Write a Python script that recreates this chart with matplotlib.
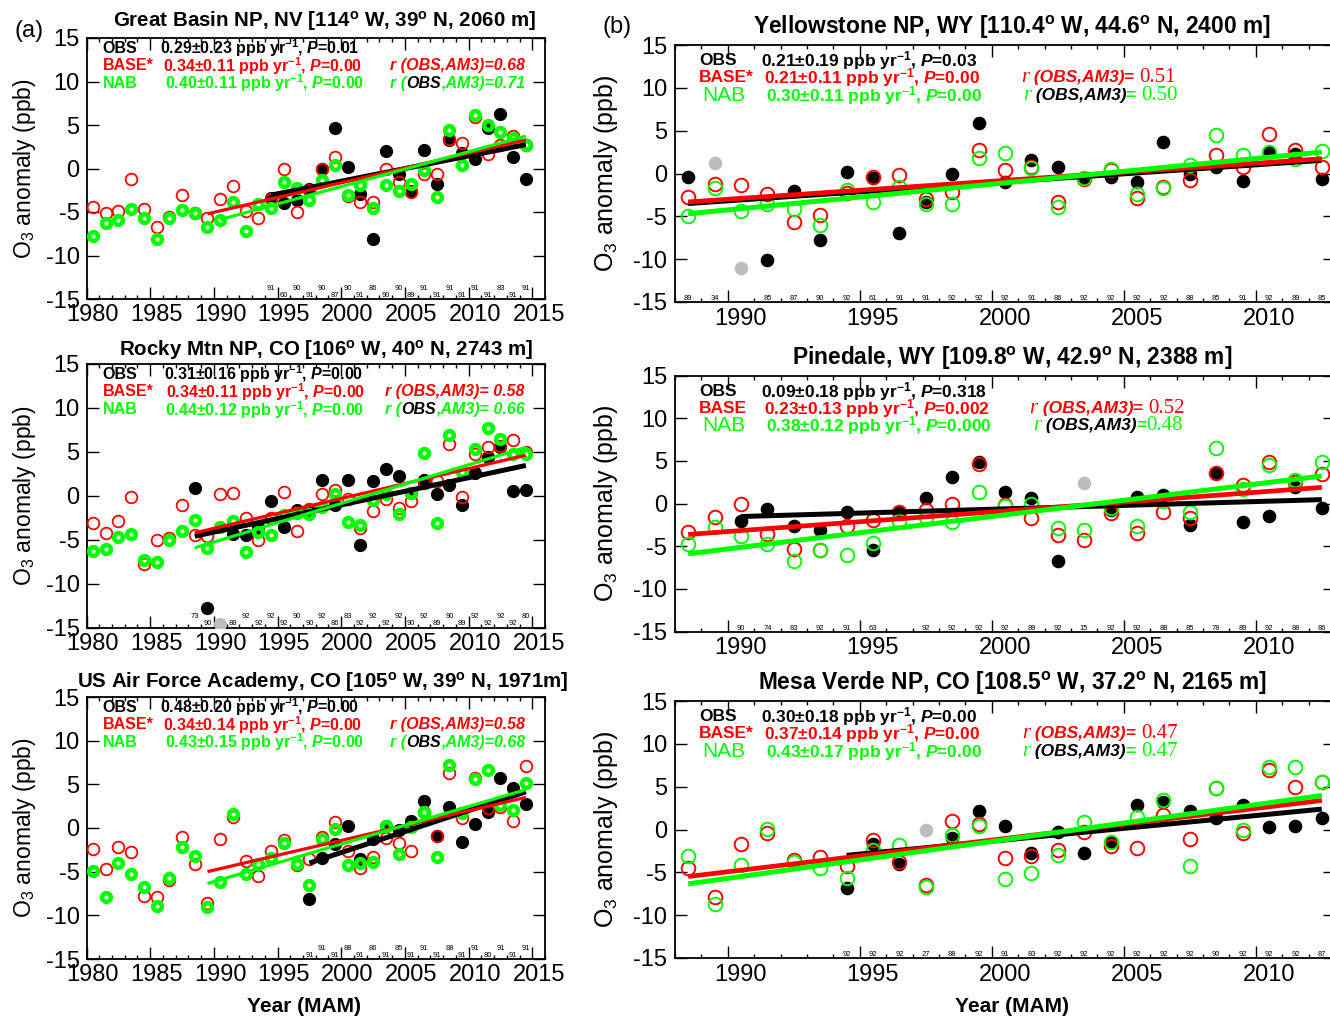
import numpy as np
import matplotlib
matplotlib.use('Agg')
import matplotlib.pyplot as plt
from matplotlib.ticker import MultipleLocator, NullFormatter
from matplotlib.transforms import offset_copy
from matplotlib.offsetbox import TextArea, HPacker, AnchoredOffsetbox

plt.rcParams['font.family'] = ['Liberation Sans', 'DejaVu Sans']
plt.rcParams['mathtext.fontset'] = 'custom'
plt.rcParams['mathtext.rm'] = 'Liberation Sans'
plt.rcParams['mathtext.it'] = 'Liberation Sans:italic:bold'
plt.rcParams['mathtext.bf'] = 'Liberation Sans:bold'
plt.rcParams['mathtext.default'] = 'regular'
plt.rcParams['axes.unicode_minus'] = False

RED = '#ff0000'
GREEN = '#00ff00'
GRAY = '#bdbdbd'
W, H = 1330, 1019

# -------------------------------------------------
# MAM ozone anomalies (ppb)
# -------------------------------------------------
# Great Basin NP, NV
gb_years = np.arange(1980, 2015)
gb_base = [-4.4, -5.15, -4.9, -1.25, -4.7, -6.7, -5.6, -3.0, -5.1, -5.7,
           -3.5, -2.0, -4.9, -5.65, -3.5, -0.1, -5.0, -2.5, -0.1, 1.3,
           -3.2, -3.8, -3.8, -0.1, -1.5, -2.7, -0.6, -0.6, 3.4, 2.9,
           5.9, 1.7, 2.7, 3.7, 2.75]
gb_nab = [-7.75, -6.3, -5.95, -4.6, -5.7, -8.05, -5.7, -4.8, -5.15, -6.7,
          -5.9, -3.8, -7.2, -4.1, -4.55, -1.55, -2.2, -3.65, -1.35, 0.45,
          -3.1, -1.9, -4.5, -1.9, -2.6, -1.8, -0.2, -3.25, 4.4, 0.35,
          6.2, 5.0, 4.15, 3.5, 2.7]
gb_obs_years = np.arange(1994, 2015)
gb_obs = [-3.4, -4.0, -3.6, -2.3, -0.1, 4.6, 0.2, -2.9, -8.1, 2.0,
          -0.6, -2.6, 2.1, -1.75, 3.3, 1.8, 1.05, 4.65, 6.3, 1.3, -1.15]
gb_days = [91, 60, 90, 91, 90, 87, 90, 91, 86, 90, 90, 89, 91, 91, 91,
           91, 91, 91, 83, 91, 91]
gb_gray_years, gb_gray = [], []

# Rocky Mtn NP, CO
rm_years = np.arange(1980, 2015)
rm_base = [-3.15, -4.2, -2.9, -0.15, -7.8, -5.05, -4.85, -1.0, -4.5, -4.6,
           0.2, 0.35, -2.5, -5.0, -2.5, 0.4, -4.0, -1.5, 0.15, 0.7,
           -0.4, -3.65, -1.75, -0.35, -1.4, -0.6, 1.5, 1.65, 5.85, -0.1,
           4.8, 5.5, 5.65, 6.4, 5.0]
rm_nab = [-6.3, -6.05, -4.7, -4.35, -7.35, -7.55, -5.05, -4.05, -2.8, -6.0,
          -3.55, -2.9, -6.4, -4.15, -4.5, -2.2, -2.0, -2.1, -1.25, 0.15,
          -3.0, -3.3, -0.5, 0.15, -2.1, 0.27, 4.9, -3.1, 6.9, 2.7,
          5.35, 7.7, 6.45, 4.7, 4.8]
rm_obs_years = np.arange(1988, 2015)
rm_obs = [0.85, -12.8, np.nan, -4.3, -4.5, -3.6, -0.55, -3.6, -1.6, -1.6,
          1.75, -1.0, 1.75, -5.65, 1.65, 3.1, 2.3, 0.3, 1.85, 0.2,
          1.2, -1.1, 2.55, 4.45, 5.55, 0.55, 0.6]
rm_days = [73, 90, None, 88, 92, 92, 92, 92, 90, 90, 92, 86, 83, 92, 92,
           92, 92, 90, 92, 89, 90, 89, 92, 92, 92, 92, 80]
rm_gray_years, rm_gray = [1990], [-14.6]

# US Air Force Academy, CO
af_years = np.arange(1980, 2015)
af_base = [-2.4, -4.7, -2.2, -2.7, -7.75, -7.9, -5.95, -1.05, -4.15, -8.55,
           -1.3, 1.3, -3.75, -5.45, -2.6, -1.35, -4.25, -3.6, -1.05, 0.7,
           -2.6, -4.6, -3.35, -1.2, -1.7, -2.6, 1.85, -0.9, 6.25, 1.2,
           5.7, 2.3, 2.35, 0.8, 7.1]
af_nab = [-4.9, -7.95, -4.05, -5.3, -6.8, -8.9, -5.75, -2.15, -3.2, -9.0,
          -6.2, 1.55, -5.25, -4.15, -3.45, -1.75, -4.1, -6.5, -1.25, -0.1,
          -4.2, -4.05, -3.9, 0.25, -2.95, 0.1, 1.85, -3.3, 7.2, 1.7,
          5.6, 6.65, 2.65, 2.05, 5.1]
af_obs_years = np.arange(1997, 2015)
af_obs = [-8.15, -3.4, -1.85, 0.25, -3.5, -1.3, 0.25, -0.2, 0.85, 3.1,
          -0.9, 2.35, -1.55, 0.45, 1.8, 5.7, 4.55, 2.8]
af_days = [91, 91, 91, 88, 91, 86, 91, 85, 91, 91, 91, 88, 91, 91, 80,
           91, 91, 91]
af_gray_years, af_gray = [], []

# Yellowstone NP, WY
ys_years = np.arange(1988, 2013)
ys_base = [-2.8, -1.25, -1.35, -2.35, -5.65, -4.8, -2.25, -0.4, -0.2, -3.0,
           -2.15, 2.7, 0.4, 0.8, -3.3, -0.6, 0.4, -2.9, -1.55, -0.8,
           2.15, 0.8, 4.6, 2.7, 0.8]
ys_nab = [-5.0, -1.75, -4.4, -3.6, -4.1, -6.05, -1.95, -3.3, -1.55, -3.6,
          -3.6, 1.85, 2.4, 0.65, -3.9, -0.5, 0.5, -2.35, -1.75, 1.0,
          4.55, 2.15, 2.55, 1.7, 2.6]
ys_obs_years = np.arange(1988, 2013)
ys_obs = [-0.4, np.nan, np.nan, -10.15, -2.1, -7.75, 0.2, -0.5, -7.0, -3.3,
          -0.1, 5.85, -1.0, 1.55, 0.8, -0.6, -0.4, -1.05, 3.7, 0.0,
          0.8, -0.9, 2.5, 2.3, -0.65]
ys_days = [89, 34, None, 85, 87, 90, 92, 61, 91, 91, 92, 92, 92, 91, 86,
           92, 92, 92, 92, 88, 85, 91, 92, 89, 85]
ys_gray_years, ys_gray = [1989, 1990], [1.2, -11.0]

# Pinedale, WY
pd_years = np.arange(1988, 2013)
pd_base = [-3.3, -1.55, -0.1, -3.6, -5.35, -5.4, -2.65, -1.95, -1.0, -0.8,
           -0.1, 4.6, -0.2, -1.75, -3.7, -4.3, -1.15, -3.5, -1.0, -1.75,
           3.6, 2.2, 4.9, 2.55, 3.5]
pd_nab = [-4.75, -2.75, -3.8, -4.7, -6.75, -5.45, -6.0, -4.6, -2.05, -1.55,
          -2.2, 1.3, -0.3, -0.1, -2.85, -3.1, -0.5, -2.65, 0.25, -1.05,
          6.45, 1.65, 4.55, 2.75, 4.9]
pd_obs_years = np.arange(1988, 2013)
pd_obs = [np.nan, np.nan, -2.05, -0.6, -2.6, -3.05, -1.0, -5.45, -1.05, 0.7,
          3.1, 4.9, 1.3, 0.65, -6.75, np.nan, -0.8, 0.8, 1.05, -2.55,
          3.6, -2.2, -1.45, 1.95, -0.5]
pd_days = [None, None, 90, 74, 83, 92, 91, 63, None, 92, 92, 92, 92, 89,
           92, 15, 92, 92, 88, 85, 78, 89, 92, 88, 86]
pd_gray_years, pd_gray = [2003], [2.45]

# Mesa Verde NP, CO
mv_years = np.arange(1988, 2013)
mv_base = [-4.55, -7.9, -1.65, -0.45, -3.6, -3.2, -4.3, -1.2, -3.85, -6.5,
           1.0, 0.6, -3.3, -3.1, -2.35, -0.25, -1.9, -2.15, 1.7, -1.15,
           4.8, -0.45, 6.9, 5.0, 5.6]
mv_nab = [-3.1, -8.65, -4.1, 0.05, -3.85, -4.55, -5.65, -2.4, -1.85, -6.7,
          -0.6, 0.45, -5.8, -5.05, -3.0, 0.9, -1.45, 1.5, 3.5, -4.25,
          4.9, -0.1, 7.35, 7.35, 5.5]
mv_obs_years = np.arange(1994, 2013)
mv_obs = [-6.8, -1.75, -4.05, np.nan, -1.05, 2.15, 0.45, -2.8, -0.3, -2.75,
          -1.5, 2.85, 3.25, 2.2, 1.3, 2.85, 0.3, 0.4, 1.3]
mv_days = [92, 92, 92, 27, 88, 92, 91, 83, 92, 92, 92, 92, 92, 92, 90,
           92, 92, 92, 87]
mv_gray_years, mv_gray = [1997], [-0.1]

# trend (ppb/yr), 1-sigma, P-value; r(OBS,AM3) for BASE and NAB
gb_trend = {'OBS': (0.29, 0.23, '0.01'), 'BASE*': (0.34, 0.11, '0.00'),
            'NAB': (0.40, 0.11, '0.00')}
gb_r = ('=0.68', '=0.71')
rm_trend = {'OBS': (0.31, 0.16, '0.00'), 'BASE*': (0.34, 0.11, '0.00'),
            'NAB': (0.44, 0.12, '0.00')}
rm_r = ('= 0.58', '= 0.66')
af_trend = {'OBS': (0.48, 0.20, '0.00'), 'BASE*': (0.34, 0.14, '0.00'),
            'NAB': (0.43, 0.15, '0.00')}
af_r = ('=0.58', '=0.68')
ys_trend = {'OBS': (0.21, 0.19, '0.03'), 'BASE*': (0.21, 0.11, '0.00'),
            'NAB': (0.30, 0.11, '0.00')}
ys_r = ('= ', '0.51', '= ', '0.50')
pd_trend = {'OBS': (0.09, 0.18, '0.318'), 'BASE': (0.23, 0.13, '0.002'),
            'NAB': (0.38, 0.12, '0.000')}
pd_r = ('= ', '0.52', '=', '0.48')
mv_trend = {'OBS': (0.30, 0.18, '0.00'), 'BASE*': (0.37, 0.14, '0.00'),
            'NAB': (0.43, 0.17, '0.00')}
mv_r = ('= ', '0.47', '= ', '0.47')

# first year of each trend fit (OBS, BASE, NAB)
gb_fit = (1994, 1989, 1990)
rm_fit = (1988, 1988, 1988)
af_fit = (1997, 1989, 1989)
ys_fit = (1988, 1988, 1988)
pd_fit = (1990, 1988, 1988)
mv_fit = (1994, 1988, 1988)

fig = plt.figure(figsize=(W / 100, H / 100), dpi=100)


def px_axes(x0, x1, top, bottom):
    return fig.add_axes([x0 / W, 1 - bottom / H, (x1 - x0) / W,
                         (bottom - top) / H])


def fig_text(x, y, s, **kw):
    fig.text(x / W, 1 - y / H, s, ha='center', va='center', **kw)


def rich_row(ax, x, y, parts, loc='center left'):
    boxes = [TextArea(s, textprops=p) for s, p in parts]
    pack = HPacker(children=boxes, align='baseline', pad=0, sep=0)
    box = AnchoredOffsetbox(loc=loc, child=pack, pad=0, borderpad=0,
                            frameon=False, bbox_to_anchor=(x, y),
                            bbox_transform=ax.transAxes)
    box.set_zorder(10)
    ax.add_artist(box)


def trend_line(ax, years, vals, slope, start, color, lw, z):
    yrs = np.asarray(years, float)
    v = np.asarray(vals, float)
    m = (yrs >= start) & ~np.isnan(v)
    x0, y0 = yrs[m].mean(), v[m].mean()
    xs = np.array([start, yrs[m].max()], float)
    ax.plot(xs + 0.5, y0 + slope * (xs - x0), color=color, lw=lw,
            solid_capstyle='butt', zorder=z)


def setup_axes(ax, xlim, size, label_drop, pad_y):
    ax.set_xlim(*xlim)
    ax.set_ylim(-15, 15)
    ax.xaxis.set_major_locator(MultipleLocator(5))
    ax.xaxis.set_minor_locator(MultipleLocator(1))
    ax.xaxis.set_major_formatter(NullFormatter())
    ax.yaxis.set_major_locator(MultipleLocator(5))
    ax.tick_params(which='both', direction='in', top=True, right=True,
                   width=1.0)
    ax.tick_params(which='major', length=8.8)
    ax.tick_params(which='minor', length=3.0)
    ax.tick_params(axis='y', labelsize=size, pad=pad_y)
    for sp in ax.spines.values():
        sp.set_linewidth(1.3)
    # year labels sit at mid-year, half a year right of the tick marks
    tr = offset_copy(ax.get_xaxis_transform(), x=0, y=-label_drop,
                     units='dots')
    first = int(np.ceil(xlim[0] / 5) * 5)
    for yr in range(first, int(xlim[1]), 5):
        ax.text(yr + 0.5, 0, str(yr), transform=tr, ha='center',
                va='center', fontsize=size, clip_on=False)


def stat_text(vals):
    slope, err, p = vals
    return (f'{slope:.2f}\u00b1{err:.2f} ppb yr$^{{-1}}$, '
            f'$\\mathit{{P}}$={p}')


# -------------------------------------------------
# Left column (a)
# -------------------------------------------------
left_panels = [
    ((38, 299), 'Great Basin NP, NV [114$^o$ W, 39$^o$ N, 2060 m]', (325, 21),
     gb_years, gb_base, gb_nab, gb_obs_years, gb_obs, gb_days,
     gb_gray_years, gb_gray, gb_trend, gb_r, gb_fit,
     (0.160, 0.166, 0.172)),
    ((364, 627.5), 'Rocky Mtn NP, CO [106$^o$ W, 40$^o$ N, 2743 m]',
     (326, 350),
     rm_years, rm_base, rm_nab, rm_obs_years, rm_obs, rm_days,
     rm_gray_years, rm_gray, rm_trend, rm_r, rm_fit,
     (0.169, 0.174, 0.172)),
    ((697, 959), 'US Air Force Academy, CO [105$^o$ W, 39$^o$ N, 1971m]',
     (323, 682),
     af_years, af_base, af_nab, af_obs_years, af_obs, af_days,
     af_gray_years, af_gray, af_trend, af_r, af_fit,
     (0.160, 0.166, 0.172)),
]

for (top, bottom), title, tpos, yrs, base, nab, oyrs, obs, days, gyrs, gval, \
        trend, rvals, fit, xval in left_panels:
    ax = px_axes(86.5, 545, top, bottom)
    setup_axes(ax, (1980, 2016), 17, 16, 5)

    ax.plot(np.asarray(oyrs) + 0.5, obs, 'o', color='k', ms=8.5, zorder=3)
    ax.plot(np.asarray(gyrs) + 0.5, gval, 'o', color=GRAY, ms=8.5, zorder=3)
    ax.plot(yrs + 0.5, base, 'o', mfc='none', mec=RED, mew=1.3, ms=8.4,
            zorder=4)
    ax.plot(yrs + 0.5, nab, 'o', mfc='none', mec=GREEN, mew=3.3, ms=6.3,
            zorder=5)

    trend_line(ax, oyrs, obs, trend['OBS'][0], fit[0], 'k', 3.6, 6)
    trend_line(ax, yrs, base, trend['BASE*'][0], fit[1], RED, 2.3, 7)
    trend_line(ax, yrs, nab, trend['NAB'][0], fit[2], GREEN, 2.3, 8)

    tr = ax.get_xaxis_transform()
    for yr, d in zip(oyrs, days):
        if d is None:
            continue
        ypos = 0.014 if yr % 2 else 0.040
        ax.text(yr + 0.5, ypos, str(d), transform=tr, ha='center',
                va='center', fontsize=5.5)

    bold = dict(fontsize=11.5, fontweight='bold')
    bi = dict(fontsize=11.5, fontweight='bold', fontstyle='italic')
    rows = (0.960, 0.894, 0.826)
    for (name, col), yrow, xv in zip((('OBS', 'k'), ('BASE*', RED),
                                      ('NAB', GREEN)), rows, xval):
        rich_row(ax, 0.035, yrow, [(name, dict(color=col, **bold))])
        rich_row(ax, xv, yrow, [(stat_text(trend[name]),
                                 dict(color=col, **bold))])
    rich_row(ax, 0.956, rows[1],
             [('r (OBS,AM3)' + rvals[0], dict(color=RED, **bi))],
             loc='center right')
    rich_row(ax, 0.956, rows[2],
             [('r (', dict(color=GREEN, **bi)), ('OBS', dict(color='k', **bi)),
              (',AM3)' + rvals[1], dict(color=GREEN, **bi))],
             loc='center right')

    fig_text(tpos[0], tpos[1], title, fontsize=14.8, fontweight='bold')
    fig_text(24.5, (top + bottom) / 2, 'O$_3$ anomaly (ppb)', fontsize=16.5,
             rotation=90)

# -------------------------------------------------
# Right column (b)
# -------------------------------------------------
right_panels = [
    ((45, 302), 'Yellowstone NP, WY [110.4$^o$ W, 44.6$^o$ N, 2400 m]',
     (1012, 27),
     ys_years, ys_base, ys_nab, ys_obs_years, ys_obs, ys_days,
     ys_gray_years, ys_gray, ys_trend, ys_r, ys_fit, 'BASE*',
     (0.524, 0.527)),
    ((375.5, 631.5), 'Pinedale, WY [109.8$^o$ W, 42.9$^o$ N, 2388 m]',
     (1012, 358),
     pd_years, pd_base, pd_nab, pd_obs_years, pd_obs, pd_days,
     pd_gray_years, pd_gray, pd_trend, pd_r, pd_fit, 'BASE',
     (0.537, 0.542)),
    ((701, 958), 'Mesa Verde NP, CO [108.5$^o$ W, 37.2$^o$ N, 2165 m]',
     (1012, 683),
     mv_years, mv_base, mv_nab, mv_obs_years, mv_obs, mv_days,
     mv_gray_years, mv_gray, mv_trend, mv_r, mv_fit, 'BASE*',
     (0.526, 0.526)),
]

for (top, bottom), title, tpos, yrs, base, nab, oyrs, obs, days, gyrs, gval, \
        trend, rvals, fit, base_name, rx in right_panels:
    ax = px_axes(675, 1335, top, bottom)
    setup_axes(ax, (1988, 2013), 17, 17, 5.5)

    ax.plot(np.asarray(oyrs) + 0.5, obs, 'o', color='k', ms=8.8, zorder=3)
    ax.plot(np.asarray(gyrs) + 0.5, gval, 'o', color=GRAY, ms=8.8, zorder=3)
    ax.plot(yrs + 0.5, base, 'o', mfc='none', mec=RED, mew=1.4, ms=9.8,
            zorder=4)
    ax.plot(yrs + 0.5, nab, 'o', mfc='none', mec=GREEN, mew=1.4, ms=9.8,
            zorder=5)

    trend_line(ax, oyrs, obs, trend['OBS'][0], fit[0], 'k', 3.6, 6)
    trend_line(ax, yrs, base, trend[base_name][0], fit[1], RED, 3.4, 7)
    trend_line(ax, yrs, nab, trend['NAB'][0], fit[2], GREEN, 3.6, 8)

    tr = ax.get_xaxis_transform()
    for yr, d in zip(oyrs, days):
        if d is None:
            continue
        ax.text(yr + 0.5, 0.012, str(d), transform=tr, ha='center',
                va='center', fontsize=5.5)

    bold = dict(fontsize=12.5, fontweight='bold')
    bi = dict(fontsize=12.5, fontweight='bold', fontstyle='italic')
    serif = dict(fontsize=15, family='Liberation Serif')
    rows = (0.938, 0.872, 0.803)
    rich_row(ax, 0.036, rows[0], [('OBS', dict(color='k', **bold))])
    rich_row(ax, 0.036, rows[1], [(base_name, dict(color=RED, **bold))])
    rich_row(ax, 0.041, rows[2], [('NAB', dict(color=GREEN, fontsize=15))])
    for name, col, yrow, xv in (('OBS', 'k', rows[0], 0.131),
                                (base_name, RED, rows[1], 0.135),
                                ('NAB', GREEN, rows[2], 0.138)):
        rich_row(ax, xv, yrow, [(stat_text(trend[name]),
                                 dict(color=col, **bold))])
    rich_row(ax, rx[0], rows[1],
             [('r', dict(color=RED, fontstyle='italic', **serif)),
              (' (OBS,AM3)', dict(color=RED, **bi)),
              (rvals[0], dict(color=RED, **bold)),
              (rvals[1], dict(color=RED, **serif))])
    rich_row(ax, rx[1], rows[2],
             [('r', dict(color=GREEN, fontstyle='italic', **serif)),
              (' (OBS,AM3)', dict(color='k', **bi)),
              (rvals[2], dict(color=GREEN, **bold)),
              (rvals[3], dict(color=GREEN, **serif))])

    fig_text(tpos[0], tpos[1], title, fontsize=16.4, fontweight='bold')
    fig_text(606, (top + bottom) / 2, 'O$_3$ anomaly (ppb)', fontsize=18,
             rotation=90)

fig_text(29, 31, '(a)', fontsize=17)
fig_text(617, 27, '(b)', fontsize=17)
fig_text(304, 1006, 'Year (MAM)', fontsize=15, fontweight='bold')
fig_text(1012, 1006, 'Year (MAM)', fontsize=15, fontweight='bold')

fig.savefig('out.png', dpi=100)
